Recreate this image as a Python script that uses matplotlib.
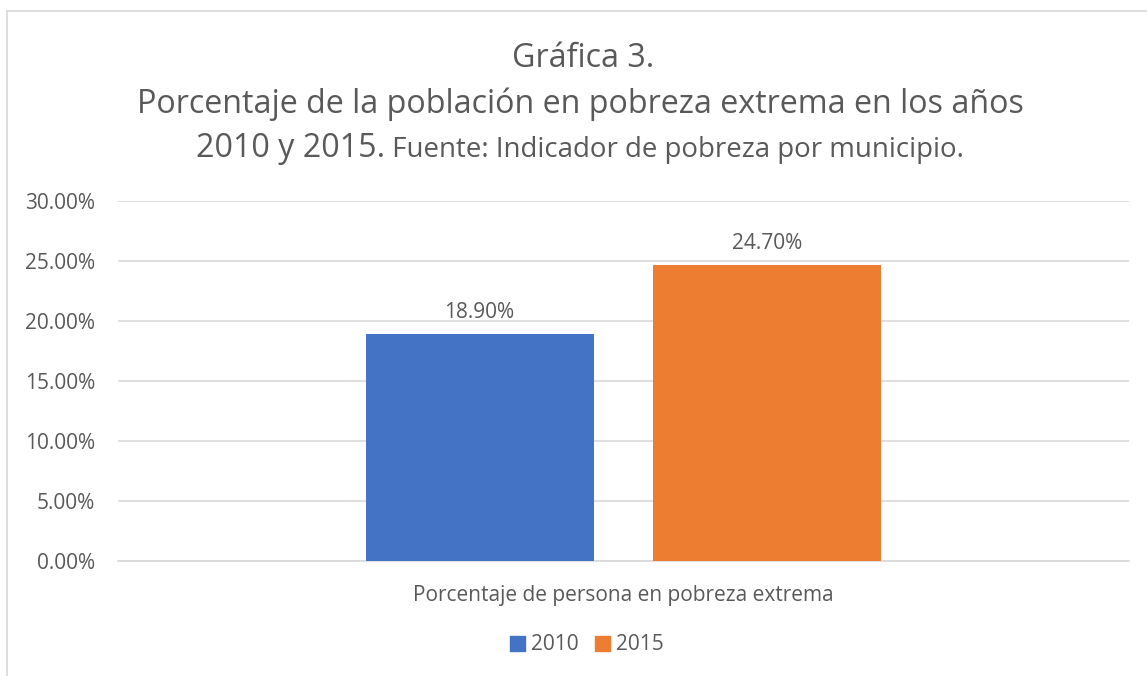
import matplotlib
matplotlib.use("Agg")
import matplotlib.pyplot as plt
from matplotlib.ticker import FuncFormatter, MultipleLocator
from matplotlib.patches import Rectangle
from matplotlib.lines import Line2D

series = ["2010", "2015"]
values = [18.90, 24.70]
category = "Porcentaje de persona en pobreza extrema"
colors = ["#4472C4", "#ED7D31"]
title_l1 = "Gráfica 3."
title_l2 = "Porcentaje de la población en pobreza extrema en los años"
title_l3a = "2010 y 2015."
title_l3b = " Fuente: Indicador de pobreza por municipio."

plt.rcParams['font.family'] = ['Open Sans', 'DejaVu Sans']
txt = "#595959"

W, H = 1147, 676
fig = plt.figure(figsize=(W/100, H/100), dpi=100)

def fx(px): return px / W
def fy(py): return 1 - py / H

# chart border (left and top visible)
fig.add_artist(Line2D([fx(6.5), fx(6.5)], [fy(11), 0], color="#D9D9D9", lw=1.2, transform=fig.transFigure))
fig.add_artist(Line2D([fx(6.5), 1], [fy(11), fy(11)], color="#D9D9D9", lw=1.2, transform=fig.transFigure))

ax = fig.add_axes([fx(118), fy(561), fx(1129) - fx(118), fy(201) - fy(561)])
bw = 0.2255
off = 0.1424
xs = [-off, off]
bars = ax.bar(xs, values, width=bw, color=colors, zorder=3)
for x, v in zip(xs, values):
    ax.text(x, v + 2.0, f"{v:.2f}%", ha="center", va="center_baseline", fontsize=15, color=txt)

ax.set_xlim(-0.5, 0.5)
ax.set_ylim(0, 30)
ax.yaxis.set_major_locator(MultipleLocator(5))
ax.yaxis.set_major_formatter(FuncFormatter(lambda v, p: f"{v:.2f}%"))
ax.grid(axis="y", color="#D9D9D9", lw=1.2, zorder=0)
for s in ["top", "right", "left"]:
    ax.spines[s].set_visible(False)
ax.spines["bottom"].set_color("#D9D9D9")
ax.spines["bottom"].set_linewidth(1.2)
ax.tick_params(axis="y", length=0, labelsize=15, labelcolor=txt, pad=16.5)
ax.set_xticks([0])
ax.set_xticklabels([category])
ax.tick_params(axis="x", length=0, labelsize=15, labelcolor=txt, pad=17)

# titles
big, small = 23.2, 19.9
fig.text(fx(583), fy(67), title_l1, ha="center", va="baseline", fontsize=big, color=txt)
fig.text(fx(580), fy(113), title_l2, ha="center", va="baseline", fontsize=big, color=txt)
t3a = fig.text(0, fy(157), title_l3a, ha="left", va="baseline", fontsize=big, color=txt)
t3b = fig.text(0, fy(157), title_l3b, ha="left", va="baseline", fontsize=small, color=txt)
fig.canvas.draw()
r = fig.canvas.get_renderer()
wa = t3a.get_window_extent(r).width
wb = t3b.get_window_extent(r).width
x0 = 580 - (wa + wb) / 2
t3a.set_x(fx(x0))
t3b.set_x(fx(x0 + wa))

# legend
handles = [Rectangle((0, 0), 1, 1, color=c) for c in colors]
fig.legend(handles, series, loc="center", bbox_to_anchor=(fx(587), fy(645)), ncol=2, frameon=False,
           fontsize=15, labelcolor=txt, handlelength=0.7, handleheight=0.7, handletextpad=0.3,
           columnspacing=0.8)

fig.savefig("out.png", dpi=100, facecolor="white")
